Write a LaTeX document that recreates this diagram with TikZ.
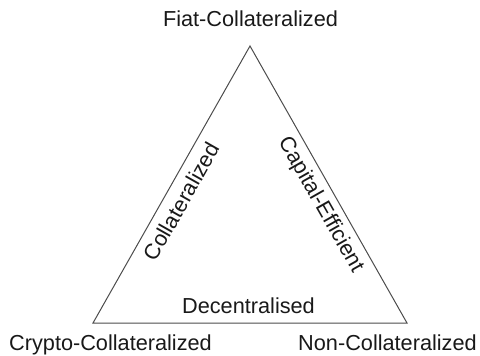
\documentclass[tikz,border=0pt]{standalone}
\usepackage{fontspec}
\setmainfont{Liberation Sans}
\begin{document}
\begin{tikzpicture}[x=1pt,y=-1pt,
    edgeline/.style={black!70,line width=1pt,line join=miter},
    corner/.style={font=\fontsize{21.7}{26}\selectfont,inner sep=0pt,text=black!90,anchor=base},
    side/.style={font=\fontsize{21.7}{26}\selectfont,inner sep=0pt,text=black!90}]
  \useasboundingbox (0,0) rectangle (480,356);
  % corners of the triangle
  \coordinate (fiat) at (250,46);
  \coordinate (crypto) at (93,323);
  \coordinate (noncol) at (407,323);
  \draw[edgeline] (fiat) -- (crypto) -- (noncol) -- cycle;
  % corner labels
  \node[corner] (fiatlbl) at (250.5,27) {Fiat-Collateralized};
  \node[corner] (cryptolbl) at (110.5,350) {Crypto-Collateralized};
  \node[corner] (noncollbl) at (387.5,350) {Non-Collateralized};
  % side labels
  \node[corner] (declbl) at (248.5,313) {Decentralised};
  \node[side,rotate=60.45] (collbl) at (181.5,201.5) {Collateralized};
  \node[side,rotate=-60.45] (caplbl) at (320.5,205) {Capital-Efficient};
\end{tikzpicture}
\end{document}
